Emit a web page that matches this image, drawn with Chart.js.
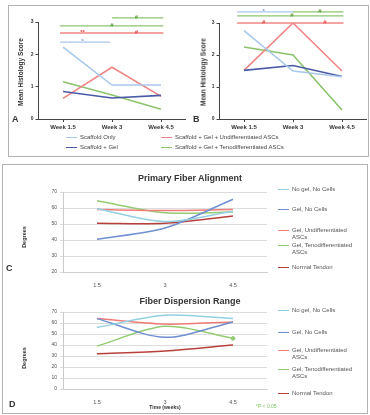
<!DOCTYPE html>
<html>
<head>
<meta charset="utf-8">
<script src="https://cdn.jsdelivr.net/npm/chart.js@4/dist/chart.umd.min.js"></script>
<style>
  body { margin: 0; background: #fff; font-family: "Liberation Sans", Arial, sans-serif; }
  #wrap { position: relative; width: 370px; height: 415px; overflow: hidden; }
  canvas, .t, .frame, .leg { position: absolute; }
  .frame { border: 1.5px solid #b3b3b3; box-sizing: border-box; }
  .t { white-space: nowrap; color: #333; }
  .rot { transform: translate(-50%, -50%) rotate(-90deg); font-weight: bold; }
  .leg { font-size: 6px; color: #555; line-height: 7px; }
  .leg .sw { display: inline-block; width: 11px; height: 1.5px; vertical-align: middle; margin-right: 3px; }
</style>
</head>
<body>
<div id="wrap">
  <div class="frame" style="left:8px;top:5px;width:361px;height:152px"></div>
  <div class="frame" style="left:2px;top:164px;width:366px;height:250px"></div>

  <canvas id="chartA" width="188" height="135" style="left:0;top:0"></canvas>
  <canvas id="chartB" width="185" height="135" style="left:185px;top:0"></canvas>
  <canvas id="chartC" width="370" height="125" style="left:0;top:165px"></canvas>
  <canvas id="chartD" width="370" height="125" style="left:0;top:290px"></canvas>

  <div class="t rot" style="left:20px;top:72px;font-size:6.5px">Mean Histology Score</div>
  <div class="t rot" style="left:203px;top:72px;font-size:6.5px">Mean Histology Score</div>
  <div class="t" style="left:12px;top:114px;font-size:9px;font-weight:bold">A</div>
  <div class="t" style="left:193px;top:114px;font-size:9px;font-weight:bold">B</div>

  <div class="leg" style="left:66px;top:134px;color:#444">
    <div><span class="sw" style="background:#a9c8ea"></span>Scaffold Only</div>
    <div style="margin-top:3px"><span class="sw" style="background:#4a5aa6"></span>Scaffold + Gel</div>
  </div>
  <div class="leg" style="left:161px;top:134px;color:#444">
    <div><span class="sw" style="background:#f08585"></span>Scaffold + Gel + Undifferentiated ASCs</div>
    <div style="margin-top:3px"><span class="sw" style="background:#8cc46e"></span>Scaffold + Gel + Tenodifferentiated ASCs</div>
  </div>

  <div class="t" style="left:190px;top:173px;transform:translateX(-50%);font-size:9px;font-weight:bold">Primary Fiber Alignment</div>
  <div class="t" style="left:190px;top:296px;transform:translateX(-50%);font-size:9px;font-weight:bold">Fiber Dispersion Range</div>
  <div class="t rot" style="left:24px;top:237px;font-size:5.5px">Degrees</div>
  <div class="t rot" style="left:24px;top:358px;font-size:5.5px">Degrees</div>
  <div class="t" style="left:6px;top:263px;font-size:9px;font-weight:bold">C</div>
  <div class="t" style="left:9px;top:399px;font-size:9px;font-weight:bold">D</div>
  <div class="t" style="left:165px;top:404px;transform:translateX(-50%);font-size:5px;font-weight:bold">Time (weeks)</div>
  <div class="t" style="left:256px;top:403px;font-size:5px;color:#7cc25a">*P &lt; 0.05</div>

  <div id="legC" class="leg" style="left:278px;top:186px"></div>
  <div id="legD" class="leg" style="left:278px;top:307px"></div>
</div>

<script>
// ---------- data ----------
const weeks = ["Week 1.5", "Week 3", "Week 4.5"];
const times = ["1.5", "3", "4.5"];

// A - histology score
const scaffoldOnlyA = [2.22, 1.05, 1.05];
const scaffoldGelA  = [0.85, 0.65, 0.73];
const undiffA       = [0.64, 1.60, 0.70];
const tenoA         = [1.15, 0.74, 0.30];

// B - histology score
const scaffoldOnlyB = [2.76, 1.50, 1.32];
const scaffoldGelB  = [1.52, 1.67, 1.33];
const undiffB       = [1.52, 3.00, 1.50];
const tenoB         = [2.25, 2.00, 0.28];

// C - primary fiber alignment (degrees)
const noGelC      = [59.5, 51.5, 58.0];
const gelNoCellC  = [40.5, 47.5, 65.5];
const undiffC     = [59.0, 58.5, 59.0];
const tenoC       = [64.5, 57.0, 57.5];
const normalC     = [50.5, 50.5, 55.0];

// D - fiber dispersion range (degrees)
const noGelD      = [56, 67, 64];
const gelNoCellD  = [64, 47, 61];
const undiffD     = [64, 59, 61];
const tenoD       = [39, 57, 46];
const normalD     = [32, 34.5, 40];

// significance bars: level on y axis, span in category index, marks [index, symbol]
const sigA = [
  { group: "teno",   level: 3.13, from: 1,     to: 2.05, marks: [[1.5, "#"]] },
  { group: "teno",   level: 2.88, from: -0.06, to: 2.05, marks: [[1.0, "#"]] },
  { group: "undiff", level: 2.66, from: -0.06, to: 2.05, marks: [[0.4, "**"], [1.5, "#"]] },
  { group: "only",   level: 2.38, from: -0.06, to: 0.96, marks: [[0.4, "*"]] }
];
const sigB = [
  { group: "only",   level: 3.35, from: -0.14, to: 1.0,  marks: [[0.4, "*"]] },
  { group: "teno",   level: 3.35, from: 1.0,   to: 2.03, marks: [[1.55, "#"]] },
  { group: "teno",   level: 3.22, from: -0.14, to: 2.03, marks: [[0.98, "#"]] },
  { group: "undiff", level: 3.0,  from: -0.14, to: 2.03, marks: [[0.4, "#"], [1.65, "#"]] }
];

const abColors = { only: "#a9c8ea", gel: "#4a5aa6", undiff: "#f08585", teno: "#8cc46e" };
const cdNames  = ["No gel, No Cells", "Gel, No Cells", "Gel, Undifferentiated ASCs", "Gel, Tenodifferentiated ASCs", "Normal Tendon"];
const cdColors = ["#93d0e2", "#6f8fd0", "#f07c78", "#93cc72", "#b8403c"];

// ---------- significance plugin ----------
const sigPlugin = {
  id: "sig",
  afterDatasetsDraw(chart, args, opts) {
    const { ctx, scales: { x, y } } = chart;
    (opts.bars || []).forEach(b => {
      const py = y.getPixelForValue(b.level);
      const col = abColors[b.group];
      ctx.save();
      ctx.strokeStyle = col;
      ctx.lineWidth = 1.3;
      ctx.beginPath();
      ctx.moveTo(x.getPixelForValue(b.from), py);
      ctx.lineTo(x.getPixelForValue(b.to), py);
      ctx.stroke();
      ctx.fillStyle = b.group === "only" ? "#6f9fd6" : (b.group === "undiff" ? "#e04848" : "#5c9c3c");
      ctx.font = "bold 6px 'Liberation Sans', Arial";
      ctx.textAlign = "center";
      ctx.textBaseline = "middle";
      b.marks.forEach(m => ctx.fillText(m[1], x.getPixelForValue(m[0]), py - 0.5));
      ctx.restore();
    });
  }
};

function abChart(id, series, sig, yWidth, pad) {
  new Chart(document.getElementById(id), {
    type: "line",
    data: {
      labels: weeks,
      datasets: [
        { data: series[0], borderColor: abColors.only },
        { data: series[1], borderColor: abColors.gel },
        { data: series[2], borderColor: abColors.undiff },
        { data: series[3], borderColor: abColors.teno }
      ]
    },
    options: {
      responsive: false,
      animation: false,
      layout: { padding: pad },
      elements: { point: { radius: 0 }, line: { borderWidth: 1.6, tension: 0 } },
      plugins: { legend: { display: false }, tooltip: { enabled: false }, sig: { bars: sig } },
      scales: {
        x: {
          offset: true,
          grid: { drawOnChartArea: false, offset: false, tickLength: 3, color: "#444" },
          border: { color: "#444" },
          ticks: { font: { size: 6, weight: "bold", family: "Liberation Sans" }, color: "#333", padding: 2 },
          afterFit(s) { s.height = 16; }
        },
        y: {
          min: 0, max: 3,
          ticks: { stepSize: 1, font: { size: 5, weight: "bold", family: "Liberation Sans" }, color: "#333", padding: 2 },
          grid: { drawOnChartArea: false, tickLength: 3, color: "#444" },
          border: { color: "#444" },
          afterFit(s) { s.width = yWidth; }
        }
      }
    },
    plugins: [sigPlugin]
  });
}

abChart("chartA", [scaffoldOnlyA, scaffoldGelA, undiffA, tenoA], sigA, 38.5, { left: 0, right: 2.5, top: 22, bottom: 0 });
abChart("chartB", [scaffoldOnlyB, scaffoldGelB, undiffB, tenoB], sigB, 34.5, { left: 0, right: 3.5, top: 23, bottom: 0 });

function cdChart(id, series, yMin, pad, extraPoint) {
  new Chart(document.getElementById(id), {
    type: "line",
    data: {
      labels: times,
      datasets: series.map((d, i) => ({
        label: cdNames[i],
        data: d,
        borderColor: cdColors[i],
        backgroundColor: cdColors[i],
        pointRadius: (extraPoint && i === 3) ? [0, 0, 1.8] : 0
      }))
    },
    options: {
      responsive: false,
      animation: false,
      layout: { padding: pad },
      elements: { line: { borderWidth: 1.5, tension: 0.3 } },
      plugins: { legend: { display: false }, tooltip: { enabled: false } },
      scales: {
        x: {
          offset: true,
          grid: { display: false },
          border: { color: "#d0d0d0" },
          ticks: { font: { size: 5.5, family: "Liberation Sans" }, color: "#555", padding: 2 },
          afterFit(s) { s.height = 18; }
        },
        y: {
          min: yMin, max: 70,
          ticks: { stepSize: 10, font: { size: 5, family: "Liberation Sans" }, color: "#555", padding: 3 },
          grid: { color: "#dcdcdc", tickLength: 3 },
          border: { color: "#c8c8c8" },
          afterFit(s) { s.width = 63; }
        }
      }
    }
  });
}

cdChart("chartC", [noGelC, gelNoCellC, undiffC, tenoC, normalC], 20, { left: 0, right: 103, top: 27, bottom: 0 }, false);
cdChart("chartD", [noGelD, gelNoCellD, undiffD, tenoD, normalD], 0, { left: 0, right: 103, top: 22, bottom: 8 }, true);

// HTML legends for C and D (wrapped two-line labels)
function buildLegend(elId, gaps) {
  const el = document.getElementById(elId);
  const labels = [["No gel, No Cells"], ["Gel, No Cells"], ["Gel, Undifferentiated", "ASCs"], ["Gel, Tenodifferentiated", "ASCs"], ["Normal Tendon"]];
  labels.forEach((lines, i) => {
    const row = document.createElement("div");
    row.style.marginTop = (i === 0 ? 0 : gaps[i - 1]) + "px";
    row.innerHTML = '<span class="sw" style="background:' + cdColors[i] + '"></span>' + lines[0] +
      (lines[1] ? '<br><span style="padding-left:14px">' + lines[1] + '</span>' : "");
    el.appendChild(row);
  });
}
buildLegend("legC", [13, 14, 1, 8]);
buildLegend("legD", [15, 11, 5, 10]);
</script>
</body>
</html>
